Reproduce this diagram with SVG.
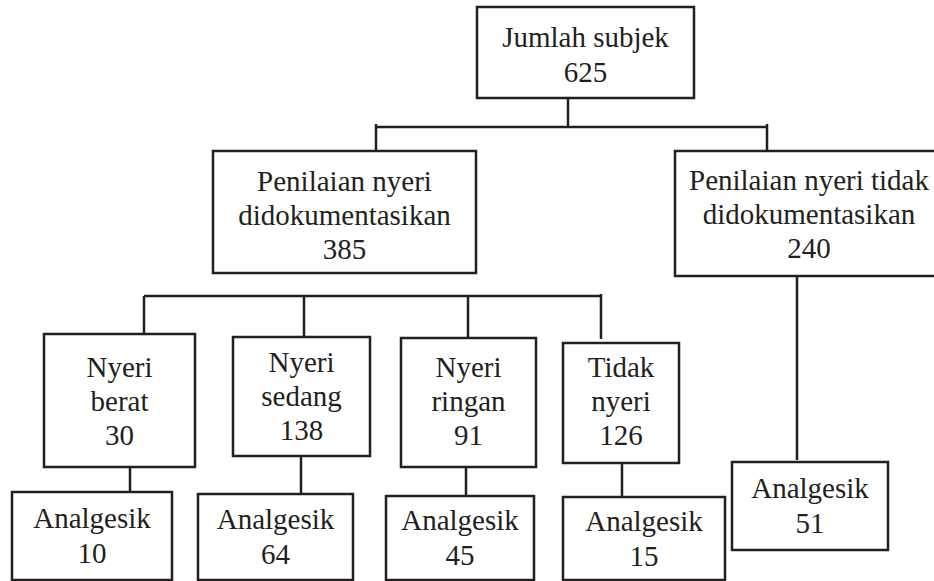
<svg xmlns="http://www.w3.org/2000/svg" width="934" height="581" viewBox="0 0 934 581">
<defs>
<style>
.box{fill:#fff;stroke:#231f20;stroke-width:2.5}
.ln{fill:none;stroke:#231f20;stroke-width:2.5}
</style>
</defs>
<rect width="934" height="581" fill="#fff"/>
<g id="connectors">
<path class="ln" d="M568,98V127M376,127H767M376,124V151M767,124V151"/>
<path class="ln" d="M144,296H601M144,296V334M304,296V337M468,296V338M601,294V339"/>
<path class="ln" d="M130,467V492M301,456V494M466,467V496M622,463V497M797,276V460"/>
</g>
<g id="n-total"><rect class="box" x="477" y="7" width="217" height="91"/><text x="585.5" y="47" font-size="29" font-family="Liberation Serif" fill="#231f20" text-anchor="middle">Jumlah subjek</text><text x="585.5" y="82" font-size="29" font-family="Liberation Serif" fill="#231f20" text-anchor="middle">625</text></g>
<g id="n-doc"><rect class="box" x="213" y="151" width="263" height="122"/><text x="344.5" y="191" font-size="29" font-family="Liberation Serif" fill="#231f20" text-anchor="middle">Penilaian nyeri</text><text x="344.5" y="225" font-size="29" font-family="Liberation Serif" fill="#231f20" text-anchor="middle">didokumentasikan</text><text x="344.5" y="259" font-size="29" font-family="Liberation Serif" fill="#231f20" text-anchor="middle">385</text></g>
<g id="n-nodoc"><rect class="box" x="675" y="151" width="268" height="125"/><text x="809" y="190" font-size="29" font-family="Liberation Serif" fill="#231f20" text-anchor="middle">Penilaian nyeri tidak</text><text x="809" y="224" font-size="29" font-family="Liberation Serif" fill="#231f20" text-anchor="middle">didokumentasikan</text><text x="809" y="258" font-size="29" font-family="Liberation Serif" fill="#231f20" text-anchor="middle">240</text></g>
<g id="n-berat"><rect class="box" x="44" y="334" width="151" height="133"/><text x="119.5" y="377" font-size="29" font-family="Liberation Serif" fill="#231f20" text-anchor="middle">Nyeri</text><text x="119.5" y="411" font-size="29" font-family="Liberation Serif" fill="#231f20" text-anchor="middle">berat</text><text x="119.5" y="445" font-size="29" font-family="Liberation Serif" fill="#231f20" text-anchor="middle">30</text></g>
<g id="n-sedang"><rect class="box" x="233" y="337" width="137" height="119"/><text x="301.5" y="372" font-size="29" font-family="Liberation Serif" fill="#231f20" text-anchor="middle">Nyeri</text><text x="301.5" y="406" font-size="29" font-family="Liberation Serif" fill="#231f20" text-anchor="middle">sedang</text><text x="301.5" y="440" font-size="29" font-family="Liberation Serif" fill="#231f20" text-anchor="middle">138</text></g>
<g id="n-ringan"><rect class="box" x="401" y="338" width="135" height="129"/><text x="468.5" y="377" font-size="29" font-family="Liberation Serif" fill="#231f20" text-anchor="middle">Nyeri</text><text x="468.5" y="411" font-size="29" font-family="Liberation Serif" fill="#231f20" text-anchor="middle">ringan</text><text x="468.5" y="445" font-size="29" font-family="Liberation Serif" fill="#231f20" text-anchor="middle">91</text></g>
<g id="n-tidak"><rect class="box" x="563" y="343" width="116" height="120"/><text x="621" y="377" font-size="29" font-family="Liberation Serif" fill="#231f20" text-anchor="middle">Tidak</text><text x="621" y="411" font-size="29" font-family="Liberation Serif" fill="#231f20" text-anchor="middle">nyeri</text><text x="621" y="445" font-size="29" font-family="Liberation Serif" fill="#231f20" text-anchor="middle">126</text></g>
<g id="a-10"><rect class="box" x="12" y="492" width="160" height="88"/><text x="92" y="528" font-size="29" font-family="Liberation Serif" fill="#231f20" text-anchor="middle">Analgesik</text><text x="92" y="563" font-size="29" font-family="Liberation Serif" fill="#231f20" text-anchor="middle">10</text></g>
<g id="a-64"><rect class="box" x="198" y="494" width="155" height="86"/><text x="275.5" y="529" font-size="29" font-family="Liberation Serif" fill="#231f20" text-anchor="middle">Analgesik</text><text x="275.5" y="564" font-size="29" font-family="Liberation Serif" fill="#231f20" text-anchor="middle">64</text></g>
<g id="a-45"><rect class="box" x="386" y="496" width="148" height="84"/><text x="460" y="530" font-size="29" font-family="Liberation Serif" fill="#231f20" text-anchor="middle">Analgesik</text><text x="460" y="565" font-size="29" font-family="Liberation Serif" fill="#231f20" text-anchor="middle">45</text></g>
<g id="a-15"><rect class="box" x="563" y="497" width="162" height="83"/><text x="644" y="531" font-size="29" font-family="Liberation Serif" fill="#231f20" text-anchor="middle">Analgesik</text><text x="644" y="566" font-size="29" font-family="Liberation Serif" fill="#231f20" text-anchor="middle">15</text></g>
<g id="a-51"><rect class="box" x="732" y="462" width="156" height="88"/><text x="810" y="498" font-size="29" font-family="Liberation Serif" fill="#231f20" text-anchor="middle">Analgesik</text><text x="810" y="533" font-size="29" font-family="Liberation Serif" fill="#231f20" text-anchor="middle">51</text></g>
</svg>
